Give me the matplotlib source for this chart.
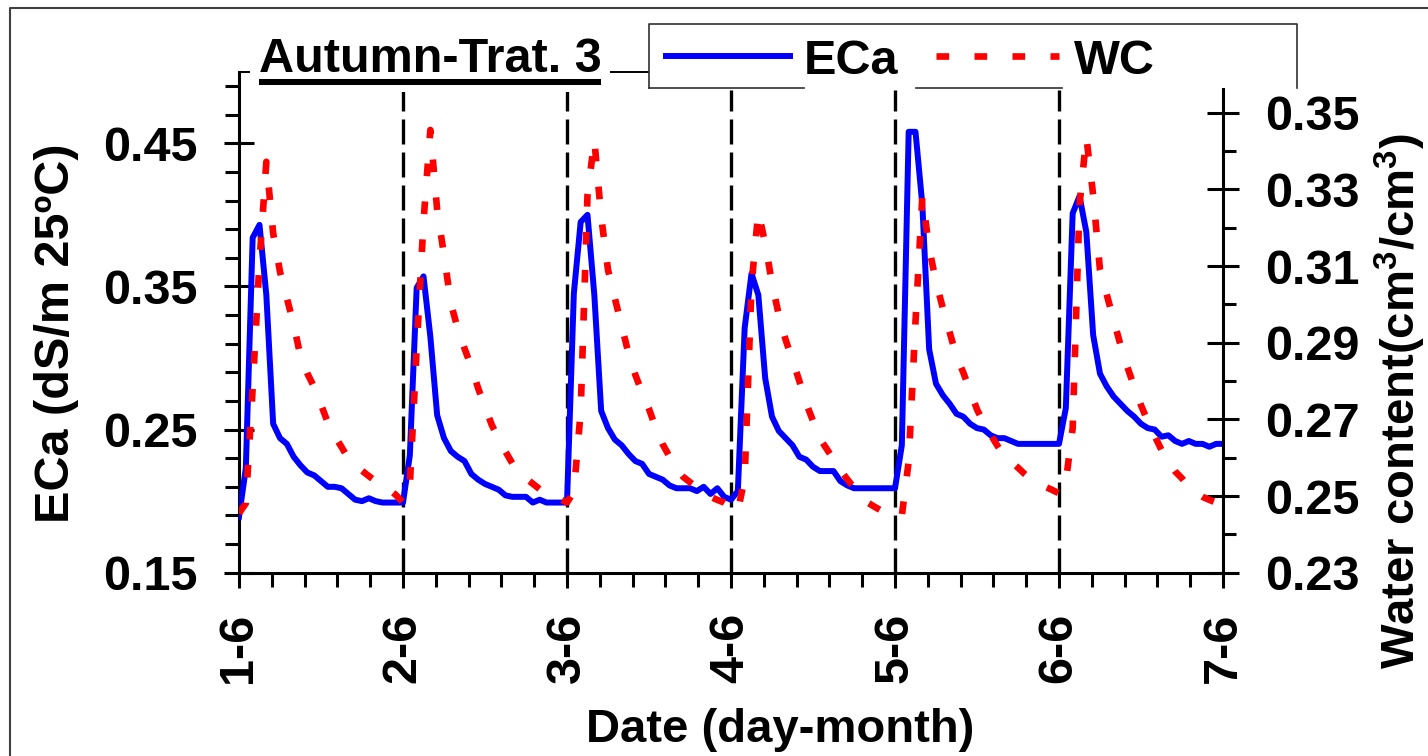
import numpy as np
import matplotlib
matplotlib.use("Agg")
import matplotlib.pyplot as plt
from matplotlib.lines import Line2D
from matplotlib.patches import Rectangle

W, H = 1428, 756

# hourly readings from 1 June 00:00 to 7 June 00:00
hours = np.arange(145)
day_ticks = [0, 24, 48, 72, 96, 120, 144]
day_labels = ["1-6", "2-6", "3-6", "4-6", "5-6", "6-6", "7-6"]

eca = [
    0.189, 0.223, 0.384, 0.393, 0.344, 0.254, 0.244, 0.240, 0.231, 0.225, 0.220, 0.218,
    0.214, 0.210, 0.210, 0.209, 0.205, 0.201, 0.200, 0.202, 0.200, 0.199, 0.199, 0.199,
    0.199, 0.232, 0.349, 0.357, 0.315, 0.260, 0.244, 0.235, 0.231, 0.228, 0.219, 0.215,
    0.212, 0.210, 0.208, 0.204, 0.203, 0.203, 0.203, 0.199, 0.201, 0.199, 0.199, 0.199,
    0.199, 0.345, 0.395, 0.400, 0.344, 0.263, 0.251, 0.243, 0.239, 0.233, 0.228, 0.226,
    0.219, 0.217, 0.215, 0.211, 0.209, 0.209, 0.209, 0.207, 0.210, 0.205, 0.209, 0.203,
    0.201, 0.207, 0.321, 0.359, 0.344, 0.286, 0.259, 0.249, 0.244, 0.239, 0.231, 0.229,
    0.224, 0.221, 0.221, 0.221, 0.214, 0.211, 0.209, 0.209, 0.209, 0.209, 0.209, 0.209,
    0.209, 0.239, 0.458, 0.458, 0.407, 0.306, 0.282, 0.274, 0.268, 0.261, 0.259, 0.254,
    0.251, 0.250, 0.246, 0.244, 0.244, 0.242, 0.240, 0.240, 0.240, 0.240, 0.240, 0.240,
    0.240, 0.265, 0.401, 0.413, 0.388, 0.316, 0.289, 0.280, 0.273, 0.268, 0.263, 0.259,
    0.254, 0.251, 0.250, 0.245, 0.246, 0.242, 0.240, 0.242, 0.240, 0.240, 0.238, 0.240,
    0.240,
]

wc = [
    0.2455, 0.2481, 0.2781, 0.3111, 0.3372, 0.3185, 0.3085, 0.3017, 0.2948, 0.2864, 0.2820, 0.2784,
    0.2739, 0.2691, 0.2657, 0.2628, 0.2598, 0.2579, 0.2566, 0.2552, 0.2539, 0.2527, 0.2517, 0.2502,
    0.2483, 0.2529, 0.2885, 0.3216, 0.3455, 0.3246, 0.3129, 0.3003, 0.2937, 0.2885, 0.2837, 0.2781,
    0.2733, 0.2685, 0.2650, 0.2616, 0.2585, 0.2559, 0.2546, 0.2532, 0.2518, 0.2505, 0.2497, 0.2492,
    0.2483, 0.2511, 0.2720, 0.3285, 0.3429, 0.3229, 0.3090, 0.3016, 0.2944, 0.2872, 0.2816, 0.2770,
    0.2727, 0.2677, 0.2635, 0.2603, 0.2572, 0.2550, 0.2536, 0.2522, 0.2510, 0.2498, 0.2490, 0.2483,
    0.2472, 0.2461, 0.2546, 0.3050, 0.3242, 0.3159, 0.3055, 0.2972, 0.2907, 0.2855, 0.2800, 0.2742,
    0.2696, 0.2650, 0.2623, 0.2596, 0.2568, 0.2544, 0.2522, 0.2501, 0.2483, 0.2472, 0.2462, 0.2453,
    0.2446, 0.2449, 0.2590, 0.2955, 0.3281, 0.3146, 0.3059, 0.2990, 0.2927, 0.2864, 0.2822, 0.2774,
    0.2726, 0.2690, 0.2660, 0.2631, 0.2604, 0.2590, 0.2574, 0.2557, 0.2542, 0.2533, 0.2524, 0.2516,
    0.2507, 0.2537, 0.2677, 0.3259, 0.3437, 0.3285, 0.3090, 0.3024, 0.2959, 0.2894, 0.2837, 0.2785,
    0.2737, 0.2694, 0.2657, 0.2620, 0.2590, 0.2564, 0.2546, 0.2523, 0.2509, 0.2498, 0.2490, 0.2483,
    0.2478,
]

plt.rcParams["font.family"] = ["Liberation Sans", "DejaVu Sans"]
plt.rcParams["font.weight"] = "bold"
plt.rcParams["mathtext.fontset"] = "custom"
plt.rcParams["mathtext.rm"] = "Liberation Sans:bold"
plt.rcParams["mathtext.bf"] = "Liberation Sans:bold"


def fx(x):
    return x / W


def fy(y):
    return 1 - y / H


fig = plt.figure(figsize=(W / 100, H / 100), dpi=100)
ax = fig.add_axes([fx(239), fy(572.7), (1223 - 239) / W, (572.7 - 71.7) / H])
ax2 = ax.twinx()

# day separators
for d in day_ticks[1:-1]:
    ax.axvline(d, ymin=0, ymax=0.9635, color="black", lw=2.4,
               linestyle=(0, (7.5, 2.4)), zorder=1)

ax.plot(hours, eca, color="#0000FF", lw=4.3, zorder=3, label="ECa")
ax2.plot(hours, wc, color="#FF0000", lw=4.8, linestyle=(0, (1.9, 3.8)), label="WC")

ax.set_xlim(0, 144)
ax.set_ylim(0.15, 0.50)
ax2.set_ylim(0.23, 0.3607)

ax.set_xticks(day_ticks)
ax.set_xticklabels(day_labels)
ax.set_xticks(np.arange(0, 144.1, 4.8), minor=True)
ax.set_yticks([0.15, 0.25, 0.35, 0.45])
ax.set_yticklabels(["0.15", "0.25", "0.35", "0.45"])
ax.set_yticks(np.arange(0.17, 0.50, 0.02), minor=True)
ax2.set_yticks([0.23, 0.25, 0.27, 0.29, 0.31, 0.33, 0.35])
ax2.set_yticklabels(["0.23", "0.25", "0.27", "0.29", "0.31", "0.33", "0.35"])
ax2.set_yticks(np.arange(0.24, 0.345, 0.02), minor=True)

ax.tick_params(axis="y", which="major", direction="inout", length=22, width=2.2,
               pad=19, labelsize=35)
ax.tick_params(axis="y", which="minor", direction="out", length=10, width=2.2)
ax.tick_params(axis="x", which="major", direction="out", length=11, width=2.2,
               pad=18, labelsize=35, labelrotation=90)
ax.tick_params(axis="x", which="minor", direction="out", length=10, width=2.2)
ax2.tick_params(axis="y", which="major", direction="inout", length=23, width=2.2,
                pad=19, labelsize=35)
ax2.tick_params(axis="y", which="minor", direction="out", length=9.5, width=2.2)

ax.spines["left"].set_linewidth(2.2)
ax.spines["bottom"].set_linewidth(2.2)
ax.spines["top"].set_linewidth(1.4)
ax.spines["right"].set_visible(False)
for s in ("left", "top", "bottom"):
    ax2.spines[s].set_visible(False)
ax2.spines["right"].set_linewidth(2.2)

# title with white backing and underline
fig.add_artist(Rectangle((fx(250), fy(92)), fx(610 - 250), (92 - 30) / H,
                         transform=fig.transFigure, facecolor="white",
                         edgecolor="none", zorder=4))
fig.text(fx(259), fy(71.7), "Autumn-Trat. 3", fontsize=35, weight="bold",
         ha="left", va="baseline", zorder=5)
fig.add_artist(Rectangle((fx(259), fy(85)), fx(601 - 259), (85 - 79.3) / H,
                         transform=fig.transFigure, facecolor="black",
                         edgecolor="none", zorder=5))

# legend box
fig.add_artist(Rectangle((fx(649), fy(88)), fx(1297 - 649), (88 - 24) / H,
                         transform=fig.transFigure, facecolor="white",
                         edgecolor="none", zorder=4))
box_color = "#303030"
fig.add_artist(Line2D([fx(649), fx(649), fx(1297), fx(1297)],
                      [fy(88), fy(24), fy(24), fy(88)],
                      transform=fig.transFigure, color=box_color, lw=1.2, zorder=5))
fig.add_artist(Line2D([fx(649), fx(804)], [fy(88), fy(88)],
                      transform=fig.transFigure, color=box_color, lw=1.2, zorder=5))
fig.add_artist(Line2D([fx(916), fx(1062)], [fy(88), fy(88)],
                      transform=fig.transFigure, color=box_color, lw=1.2, zorder=5))

h1, l1 = ax.get_legend_handles_labels()
h2, l2 = ax2.get_legend_handles_labels()
leg = fig.legend(h1 + h2, l1 + l2, ncol=2, frameon=False, loc="center left",
                 bbox_to_anchor=(fx(666), fy(61)), borderpad=0, borderaxespad=0,
                 handlelength=2.55, handletextpad=0.29, columnspacing=0.76,
                 prop={"size": 35, "weight": "bold"})
leg.set_zorder(6)

# axis titles
fig.text(fx(780), fy(742), "Date (day-month)", fontsize=34, weight="bold",
         ha="center", va="baseline")
fig.text(fx(69), fy(333), "ECa (dS/m 25ºC)", fontsize=35, weight="bold",
         rotation=90, rotation_mode="anchor", ha="center", va="baseline")
fig.text(fx(1415), fy(401), r"Water content(cm$^{\mathbf{3}}$/cm$^{\mathbf{3}}$)",
         fontsize=34, weight="bold", rotation=90, rotation_mode="anchor",
         ha="center", va="baseline")

# outer chart border
fig.add_artist(Line2D([fx(10), fx(10), fx(1432)], [fy(760), fy(8), fy(8)],
                      transform=fig.transFigure, color="#404040", lw=1.5, zorder=5))

fig.savefig("out.png", dpi=100)
